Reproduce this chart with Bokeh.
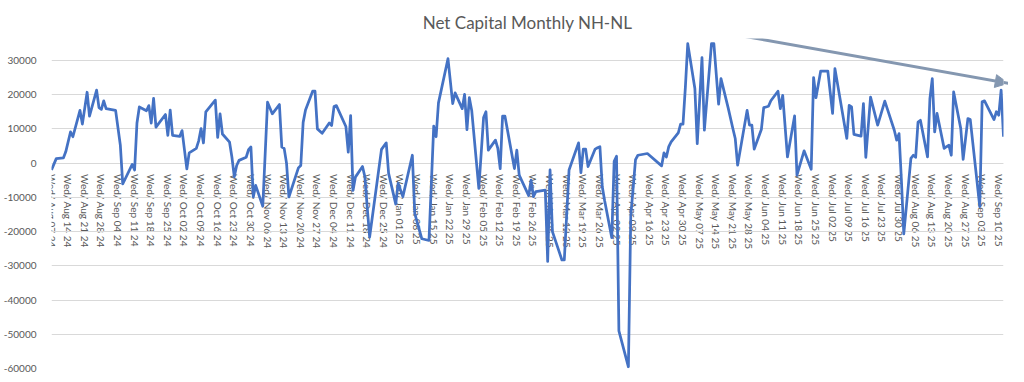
import pandas as pd
from bokeh.plotting import figure
from bokeh.models import (Range1d, FixedTicker, DatetimeTickFormatter, NumeralTickFormatter,
                          Arrow, NormalHead, ColumnDataSource)
from bokeh.embed import file_html
from bokeh.resources import INLINE

title_text = "Net Capital Monthly NH-NL"

dates = [
    "2024-08-07", "2024-08-09", "2024-08-12", "2024-08-13", "2024-08-15", "2024-08-16",
    "2024-08-19", "2024-08-20", "2024-08-22", "2024-08-23", "2024-08-26", "2024-08-27",
    "2024-08-28", "2024-08-29", "2024-08-30", "2024-09-03", "2024-09-05", "2024-09-06",
    "2024-09-10", "2024-09-11", "2024-09-12", "2024-09-13", "2024-09-16", "2024-09-17",
    "2024-09-18", "2024-09-19", "2024-09-20", "2024-09-24", "2024-09-25", "2024-09-26",
    "2024-09-27", "2024-09-30", "2024-10-01", "2024-10-03", "2024-10-04", "2024-10-07",
    "2024-10-08", "2024-10-09", "2024-10-10", "2024-10-11", "2024-10-15", "2024-10-16",
    "2024-10-17", "2024-10-18", "2024-10-21", "2024-10-22", "2024-10-23", "2024-10-24",
    "2024-10-25", "2024-10-28", "2024-10-29", "2024-10-30", "2024-10-31", "2024-11-01",
    "2024-11-04", "2024-11-06", "2024-11-08", "2024-11-11", "2024-11-12", "2024-11-13",
    "2024-11-14", "2024-11-15", "2024-11-19", "2024-11-20", "2024-11-21", "2024-11-22",
    "2024-11-25", "2024-11-26", "2024-11-27", "2024-11-29", "2024-12-02", "2024-12-03",
    "2024-12-04", "2024-12-05", "2024-12-09", "2024-12-10", "2024-12-11", "2024-12-12",
    "2024-12-13", "2024-12-16", "2024-12-17", "2024-12-18", "2024-12-19", "2024-12-24",
    "2024-12-26", "2024-12-27", "2024-12-30", "2024-12-31", "2025-01-02", "2025-01-06",
    "2025-01-07", "2025-01-10", "2025-01-13", "2025-01-15", "2025-01-16", "2025-01-17",
    "2025-01-21", "2025-01-23", "2025-01-24", "2025-01-27", "2025-01-28", "2025-01-29",
    "2025-01-30", "2025-01-31", "2025-02-03", "2025-02-05", "2025-02-06", "2025-02-07",
    "2025-02-10", "2025-02-11", "2025-02-12", "2025-02-13", "2025-02-14", "2025-02-18",
    "2025-02-19", "2025-02-20", "2025-02-24", "2025-02-25", "2025-02-26", "2025-02-27",
    "2025-03-03", "2025-03-04", "2025-03-05", "2025-03-06", "2025-03-10", "2025-03-11",
    "2025-03-13", "2025-03-17", "2025-03-18", "2025-03-19", "2025-03-20", "2025-03-21",
    "2025-03-24", "2025-03-25", "2025-03-26", "2025-03-27", "2025-03-28", "2025-03-31",
    "2025-04-01", "2025-04-02", "2025-04-03", "2025-04-07", "2025-04-08", "2025-04-10",
    "2025-04-11", "2025-04-15", "2025-04-21", "2025-04-22", "2025-04-23", "2025-04-24",
    "2025-04-25", "2025-04-28", "2025-04-29", "2025-04-30", "2025-05-01", "2025-05-02",
    "2025-05-05", "2025-05-06", "2025-05-08", "2025-05-09", "2025-05-12", "2025-05-13",
    "2025-05-15", "2025-05-16", "2025-05-19", "2025-05-21", "2025-05-22", "2025-05-23",
    "2025-05-27", "2025-05-28", "2025-05-29", "2025-05-30", "2025-06-02", "2025-06-03",
    "2025-06-04", "2025-06-05", "2025-06-06", "2025-06-09", "2025-06-10", "2025-06-11",
    "2025-06-13", "2025-06-16", "2025-06-17", "2025-06-20", "2025-06-23", "2025-06-24",
    "2025-06-25", "2025-06-27", "2025-06-30", "2025-07-02", "2025-07-03", "2025-07-08",
    "2025-07-09", "2025-07-10", "2025-07-11", "2025-07-14", "2025-07-15", "2025-07-16",
    "2025-07-18", "2025-07-21", "2025-07-24", "2025-07-25", "2025-07-28", "2025-07-29",
    "2025-07-30", "2025-07-31", "2025-08-01", "2025-08-04", "2025-08-05", "2025-08-06",
    "2025-08-07", "2025-08-08", "2025-08-11", "2025-08-12", "2025-08-13", "2025-08-14",
    "2025-08-15", "2025-08-18", "2025-08-19", "2025-08-20", "2025-08-21", "2025-08-22",
    "2025-08-25", "2025-08-26", "2025-08-28", "2025-08-29", "2025-09-02", "2025-09-03",
    "2025-09-04", "2025-09-08", "2025-09-09", "2025-09-10", "2025-09-11", "2025-09-12",
]

values = [
    -2000, 1300, 1500, 3300, 9100, 7700,
    15400, 11400, 20700, 13700, 21300, 16200,
    15700, 18200, 15900, 15400, 5200, -6100,
    -400, -2000, 11700, 16400, 15300, 16800,
    11700, 18900, 10500, 14200, 8100, 15500,
    8100, 7800, 9500, -1700, 3000, 4300,
    6500, 10100, 5900, 15000, 18400, 7500,
    14400, 8500, 6100, 1700, -4000, -700,
    800, 1700, 3900, 4700, -9900, -6500,
    -12600, 17800, 14400, 17100, 4700, 4300,
    0, -9900, -1400, -700, 11900, 15500,
    21000, 21000, 10000, 8700, 11700, 11000,
    16500, 16800, 10700, 3200, 13900, -8000,
    -4100, -1000, -4000, -13000, -21600, 4000,
    5900, -3000, -12000, -5900, -9800, 2300,
    -14700, -22100, -22600, 10800, 7700, 17600,
    30500, 17400, 20500, 15900, 20100, 9800,
    19100, 15400, -7400, 13300, 15000, 3800,
    6700, 4300, -1600, 13700, 13700, -1600,
    3800, -3500, -9500, -5000, -9800, -8300,
    -7900, -28700, -2000, -20000, -28300, -28300,
    -2000, 5900, -2800, 4100, 4100, -1000,
    4100, 4500, 4800, -6900, -11000, -21800,
    500, 2000, -49000, -59500, -15500, 1000,
    2300, 2800, -800, 3000, 1800, 4800,
    6200, 8800, 11400, 11400, 22200, 34900,
    21800, 5700, 30800, 9600, 34900, 34900,
    17200, 24700, 16200, 10100, 7200, -600,
    15400, 11100, 11100, 4100, 9800, 16200,
    16400, 16600, 18200, 21000, 15900, 19800,
    1800, 13800, -3500, 3600, -1800, 25000,
    19100, 26900, 26900, 14500, 27600, 7200,
    16900, 16400, 8400, 7900, 17400, 1700,
    19300, 11100, 18100, 16000, 9600, 6700,
    8600, -5000, -20700, 1400, 2300, 1700,
    12000, 12500, 1800, 18800, 24700, 9100,
    14500, 4300, 4800, 5200, 2300, 20800,
    10100, 1100, 13000, 12700, -12700, 17900,
    18200, 12700, 15000, 14000, 21300, 7700,
]

y_ticks = [-60000, -50000, -40000, -30000, -20000, -10000, 0, 10000, 20000, 30000]
tick_first, tick_last = "2024-08-07", "2025-09-10"   # weekly Wednesday labels
x_start, x_end = "2024-08-07", "2025-09-12"
y_start, y_end = -60000, 36400

# trend arrow drawn on the chart (start / end as date, value)
arrow_from = ("2025-05-18", 38000)
arrow_to = ("2025-09-14", 23300)

def ms(d):
    return pd.Timestamp(d).value / 1e6

src = ColumnDataSource(dict(date=pd.to_datetime(dates), value=values))

p = figure(width=1008, height=374, output_backend="svg", toolbar_location=None,
           x_axis_type="datetime",
           x_range=Range1d(ms(x_start), ms(x_end)),
           y_range=Range1d(y_start, y_end),
           min_border_left=39, min_border_right=5, min_border_top=38, min_border_bottom=6,
           title=title_text)

p.title.align = "center"
p.title.text_font = "Lato"
p.title.text_font_size = "17px"
p.title.text_font_style = "normal"
p.title.text_color = "#595959"
p.title.standoff = 12

p.outline_line_color = None
p.background_fill_color = "white"
p.border_fill_color = "white"

p.line(x="date", y="value", source=src, line_color="#4472c4", line_width=2.75,
       line_join="round")

# axes
xt = [ms(d) for d in pd.date_range(tick_first, tick_last, freq="7D")]
p.xaxis.ticker = FixedTicker(ticks=xt)
fmt = "%a/ %b %d %y"
p.xaxis.formatter = DatetimeTickFormatter(days=fmt, months=fmt, years=fmt, hours=fmt,
                                          strip_leading_zeros=False)
p.xaxis.fixed_location = 0
p.xaxis.level = "underlay"
p.xaxis.major_label_orientation = "vertical"
p.xaxis.major_tick_line_color = None
p.xaxis.minor_tick_line_color = None
p.xaxis.axis_line_color = "#d9d9d9"
p.xaxis.major_label_text_font = "Lato"
p.xaxis.major_label_text_font_size = "10px"
p.xaxis.major_label_text_color = "#595959"
p.xaxis.major_label_standoff = 5

p.yaxis.ticker = FixedTicker(ticks=y_ticks)
p.yaxis.formatter = NumeralTickFormatter(format="0")
p.yaxis.axis_line_color = None
p.yaxis.major_tick_line_color = None
p.yaxis.minor_tick_line_color = None
p.yaxis.major_label_text_font = "Lato"
p.yaxis.major_label_text_font_size = "10px"
p.yaxis.major_label_text_color = "#595959"
p.yaxis.major_label_standoff = 9

p.xgrid.grid_line_color = None
p.ygrid.grid_line_color = "#d9d9d9"
p.ygrid.grid_line_width = 1

arrow_color = "#8497b0"
p.add_layout(Arrow(end=NormalHead(size=13, fill_color=arrow_color, line_color=arrow_color),
                   x_start=ms(arrow_from[0]), y_start=arrow_from[1],
                   x_end=ms(arrow_to[0]), y_end=arrow_to[1],
                   line_color=arrow_color, line_width=3))

open("out.html", "w").write(file_html(p, INLINE))
